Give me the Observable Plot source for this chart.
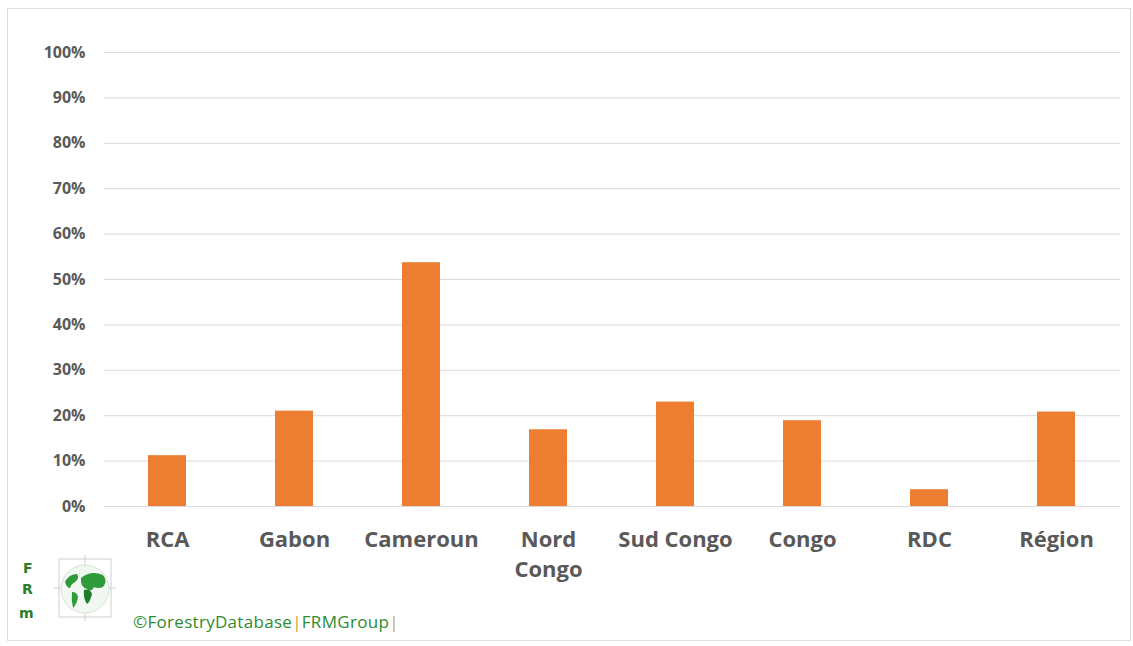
<!DOCTYPE html>
<html>
<head>
<meta charset="utf-8">
<script src="https://cdn.jsdelivr.net/npm/d3@7"></script>
<script src="https://cdn.jsdelivr.net/npm/@observablehq/plot@0.6"></script>
<style>
  html, body { margin: 0; padding: 0; background: #fff; }
  #wrap { position: relative; width: 1133px; height: 646px; overflow: hidden; }
  #frame { position: absolute; left: 7px; top: 8px; width: 1124px; height: 633px; border: 1px solid #dedede; box-sizing: border-box; }
  #chart { position: absolute; left: 0; top: 0; }
  #caption { position: absolute; left: 133px; top: 610px; font-family: "Open Sans", sans-serif; font-size: 17px; color: #2e8b2e; letter-spacing: 0.3px; }
  #caption .bar { color: #c8a040; }
  #logo { position: absolute; left: 18px; top: 552px; }
</style>
</head>
<body>
<div id="wrap">
  <div id="frame"></div>
  <div id="chart"></div>
  <div id="logo">
    <svg width="100" height="76" viewBox="0 0 100 76">
      <g font-family="DejaVu Sans, sans-serif" font-weight="bold" fill="#2a7d2a" font-size="14">
        <text x="5" y="21">F</text>
        <text x="4" y="42">R</text>
        <text x="1" y="66">m</text>
      </g>
      <g stroke="#c4c4c4" stroke-width="0.8" fill="none">
        <rect x="41" y="7" width="52" height="58"/>
        <line x1="36" y1="36" x2="98" y2="36"/>
        <line x1="67" y1="3" x2="67" y2="69"/>
      </g>
      <circle cx="67" cy="37" r="24" fill="#f1f7f1" stroke="#d5e6d5"/>
      <g fill="#2f9a3a">
        <path d="M47 30 q4 -8 12 -8 q3 4 -2 8 q-4 2 -5 6 q-3 0 -5 -6z"/>
        <path d="M54 40 q5 0 6 5 q-1 7 -5 11 q-2 -8 -1 -16z"/>
        <path d="M63 26 q10 -8 22 -3 q5 6 0 12 q-5 2 -9 0 q-3 6 -7 2 q-7 -2 -6 -11z"/>
        <path d="M66 38 q6 -2 8 4 q-2 8 -5 10 q-4 -6 -3 -14z" fill="#1f7a2a"/>
      </g>
    </svg>
  </div>
  <div id="caption">©ForestryDatabase<span class="bar">|</span>FRMGroup<span class="bar">|</span></div>
</div>
<script>
const categories = ["RCA", "Gabon", "Cameroun", "Nord Congo", "Sud Congo", "Congo", "RDC", "Région"];
const values = [11.2, 21.0, 53.7, 16.9, 23.0, 18.9, 3.7, 20.8];
const yTicks = [0, 10, 20, 30, 40, 50, 60, 70, 80, 90, 100];

const data = categories.map((c, i) => ({category: c, value: values[i]}));

const chart = Plot.plot({
  width: 1133,
  height: 600,
  marginLeft: 104,
  marginRight: 13,
  marginTop: 52,
  marginBottom: 94,
  style: {fontFamily: "Open Sans, sans-serif", background: "transparent", overflow: "visible"},
  x: {domain: categories, paddingInner: 0.7, paddingOuter: 0.35},
  y: {domain: [0, 100]},
  marks: [
    Plot.gridY(yTicks, {stroke: "#d9d9d9", strokeOpacity: 1, strokeWidth: 1}),
    Plot.barY(data, {x: "category", y: "value", fill: "#ED7D31"}),
    Plot.axisY(yTicks, {
      tickSize: 0, tickPadding: 19, tickFormat: d => d + "%",
      fontSize: 16, fontWeight: 700, fill: "#595959", label: null
    }),
    Plot.axisX({
      tickSize: 0, tickPadding: 19, fontSize: 22, fontWeight: 700, fill: "#595959",
      lineHeight: 1.36, label: null,
      tickFormat: d => d === "Nord Congo" ? "Nord\nCongo" : d
    })
  ]
});
document.getElementById("chart").appendChild(chart);
</script>
</body>
</html>
